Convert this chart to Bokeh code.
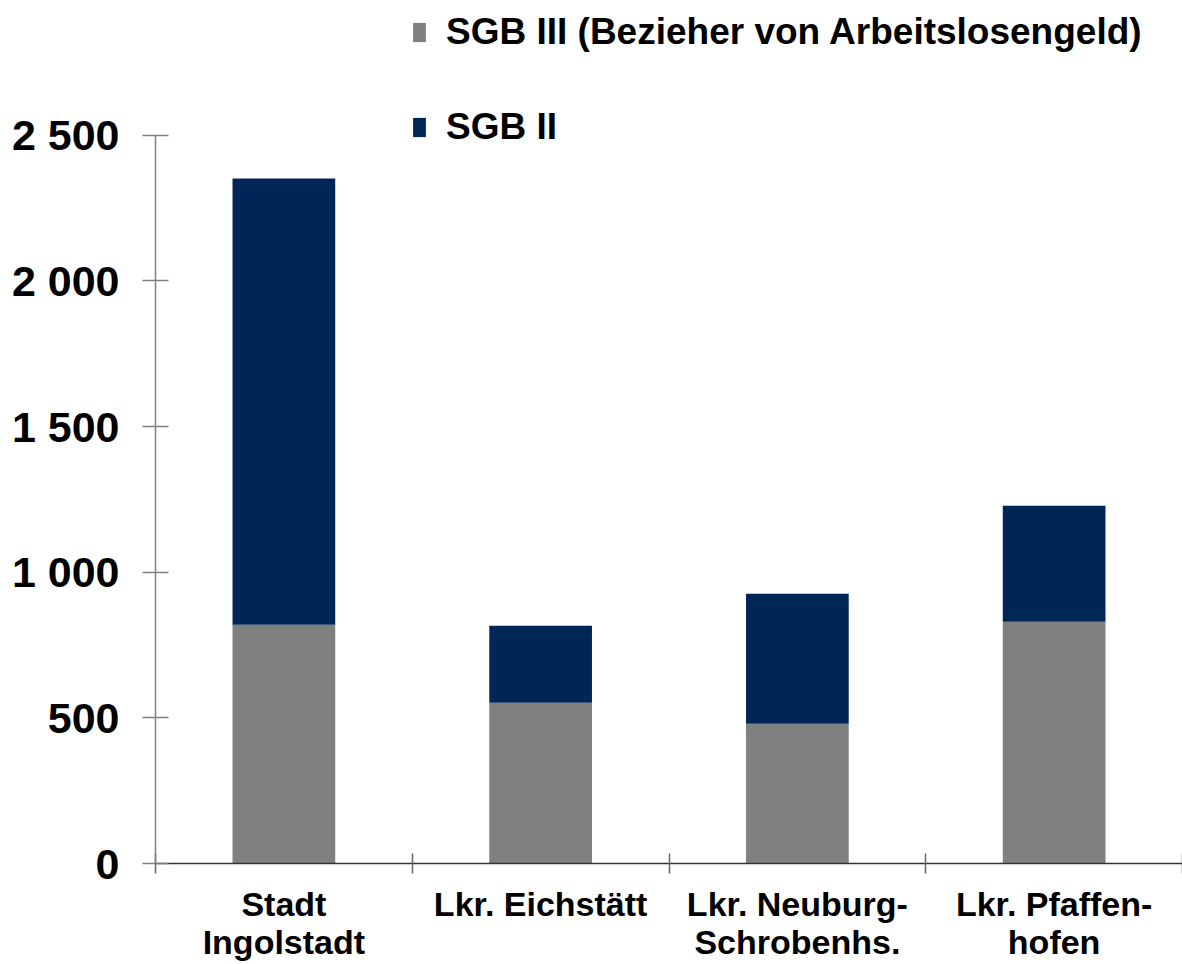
from bokeh.plotting import figure
from bokeh.models import Range1d, FixedTicker, Legend, LegendItem, ColumnDataSource, LinearAxis
from bokeh.embed import file_html
from bokeh.resources import INLINE

# ---- data ----
categories = ["Stadt\nIngolstadt", "Lkr. Eichstätt", "Lkr. Neuburg-\nSchrobenhs.", "Lkr. Pfaffen-\nhofen"]
sgb3 = [820, 552, 480, 830]
sgb2 = [1532, 264, 446, 398]
series_names = ["SGB III (Bezieher von Arbeitslosengeld)", "SGB II"]
colors = ["#808080", "#002658"]
y_ticks = [0, 500, 1000, 1500, 2000, 2500]
y_tick_labels = ["0", "500", "1 000", "1 500", "2 000", "2 500"]

FONT = "Liberation Sans"

x_pos = [i + 0.5 for i in range(len(categories))]
src = ColumnDataSource(dict(x=x_pos, sgb3=sgb3, sgb2=sgb2))

W, H = 1182, 964
left, bottom_border = 155, 100
frame_h = H - bottom_border
top_px = 135  # pixel position of the top tick inside the frame
y_end = y_ticks[-1] * frame_h / (frame_h - top_px)

p = figure(width=W, height=H, output_backend="svg", toolbar_location=None,
           x_range=Range1d(0, len(categories)), y_range=Range1d(0, y_end),
           min_border_left=left, min_border_right=0, min_border_top=0,
           min_border_bottom=bottom_border, x_axis_location=None, y_axis_location=None)
p.outline_line_color = None
p.xgrid.visible = False
p.ygrid.visible = False
p.background_fill_color = "white"

rs = p.vbar_stack(["sgb3", "sgb2"], x="x", width=0.4, color=colors, line_color=None, source=src)

# y axis
yax = LinearAxis(ticker=FixedTicker(ticks=y_ticks, minor_ticks=[]), bounds=(0, y_ticks[-1]))
yax.major_label_overrides = {t: l for t, l in zip(y_ticks, y_tick_labels)}
yax.axis_line_color = "#808080"
yax.axis_line_width = 1.5
yax.major_tick_line_color = "#808080"
yax.major_tick_line_width = 1.5
yax.major_tick_in = 13
yax.major_tick_out = 13
yax.minor_tick_line_color = None
yax.major_label_standoff = 23
yax.major_label_text_font = FONT
yax.major_label_text_font_style = "bold"
yax.major_label_text_font_size = "43px"
yax.major_label_text_color = "black"
p.add_layout(yax, "left")

# x axis
xax = LinearAxis(ticker=FixedTicker(ticks=x_pos, minor_ticks=list(range(len(categories) + 1))))
xax.major_label_overrides = {x: c for x, c in zip(x_pos, categories)}
xax.axis_line_color = "#333333"
xax.axis_line_width = 1.5
xax.major_tick_line_color = None
xax.major_tick_in = 0
xax.major_tick_out = 0
xax.minor_tick_line_color = "#666666"
xax.minor_tick_line_width = 1.5
xax.minor_tick_in = 10
xax.minor_tick_out = 10
xax.major_label_standoff = 11
xax.major_label_text_font = FONT
xax.major_label_text_font_style = "bold"
xax.major_label_text_font_size = "34px"
xax.major_label_text_color = "black"
xax.major_label_text_line_height = 1.02
p.add_layout(xax, "below")

legend = Legend(items=[LegendItem(label=series_names[0], renderers=[rs[0]]),
                       LegendItem(label=series_names[1], renderers=[rs[1]])],
                location=(256, frame_h - 150))
legend.border_line_color = None
legend.background_fill_alpha = 0
legend.padding = 0
legend.margin = 0
legend.glyph_width = 16
legend.glyph_height = 24
legend.label_height = 44
legend.spacing = 51
legend.label_standoff = 19
legend.label_text_font = FONT
legend.label_text_font_style = "bold"
legend.label_text_font_size = "37px"
legend.label_text_color = "black"
p.add_layout(legend)

open("out.html", "w").write(file_html(p, INLINE))
